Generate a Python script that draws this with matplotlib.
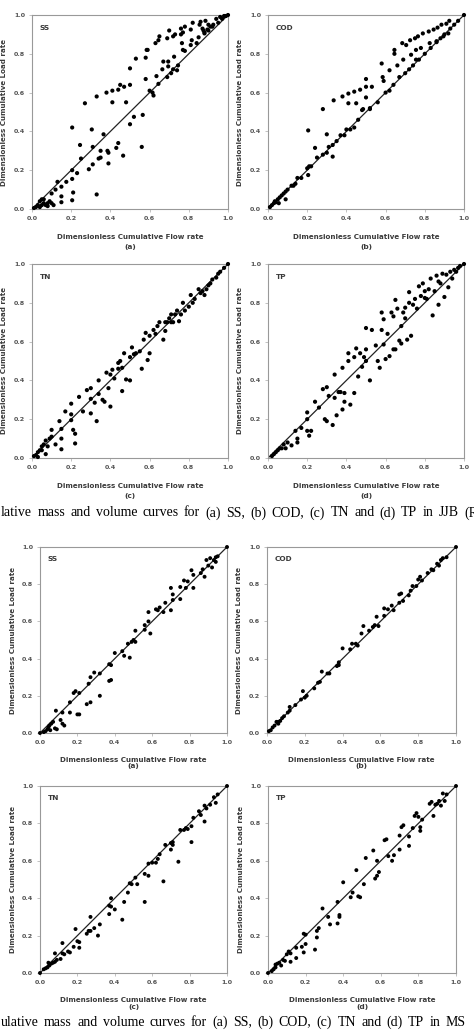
import numpy as np
import matplotlib
matplotlib.use('Agg')
import matplotlib.pyplot as plt

# Cumulative (dimensionless) flow vs load
# JJB site
ss_jjb_x = [0.27, 0.33, 0.38, 0.41, 0.41, 0.44, 0.45, 0.47, 0.48, 0.50, 0.50, 0.53, 0.58, 0.585, 0.59,
            0.58, 0.63, 0.645, 0.65, 0.69, 0.70, 0.72, 0.73, 0.76, 0.78, 0.76, 0.77, 0.82, 0.86, 0.81,
            0.855, 0.885, 0.94, 0.96, 0.98, 0.90, 0.92, 0.95, 0.97, 0.99, 1.0, 0.87, 0.88, 0.90,
            0.565, 0.56, 0.52, 0.50, 0.465, 0.44, 0.43, 0.39, 0.39, 0.385, 0.35, 0.34, 0.35, 0.365,
            0.31, 0.29, 0.31, 0.305, 0.245, 0.25, 0.205, 0.205, 0.23, 0.205, 0.21, 0.205, 0.33,
            0.15, 0.15, 0.15, 0.13, 0.175, 0.12, 0.10, 0.05, 0.04,
            0.02, 0.03, 0.05, 0.06, 0.07, 0.08, 0.09, 0.10, 0.11, 0.01, 0.04, 0.06, 0.08,
            0.60, 0.615, 0.62, 0.645, 0.635, 0.665, 0.67, 0.695, 0.695, 0.69, 0.71, 0.72, 0.725,
            0.74, 0.745, 0.77, 0.765, 0.78, 0.81, 0.815, 0.84, 0.85, 0.875, 0.88, 0.895, 0.925, 0.91]
ss_jjb_y = [0.545, 0.58, 0.60, 0.61, 0.55, 0.615, 0.64, 0.63, 0.55, 0.64, 0.725, 0.775, 0.78, 0.82, 0.82,
            0.67, 0.855, 0.87, 0.89, 0.88, 0.92, 0.89, 0.90, 0.93, 0.94, 0.90, 0.91, 0.96, 0.965, 0.925,
            0.95, 0.97, 0.98, 0.99, 0.995, 0.92, 0.94, 0.96, 0.98, 0.995, 1.0, 0.93, 0.91, 0.95,
            0.485, 0.32, 0.475, 0.437, 0.275, 0.34, 0.315, 0.235, 0.29, 0.30, 0.265, 0.26, 0.30, 0.385,
            0.23, 0.205, 0.32, 0.41, 0.33, 0.26, 0.42, 0.20, 0.185, 0.155, 0.085, 0.045, 0.075,
            0.115, 0.065, 0.035, 0.14, 0.14, 0.10, 0.08, 0.05, 0.04,
            0.01, 0.02, 0.02, 0.03, 0.02, 0.03, 0.04, 0.03, 0.02, 0.005, 0.01, 0.05, 0.015,
            0.61, 0.60, 0.585, 0.645, 0.685, 0.72, 0.76, 0.76, 0.735, 0.68, 0.70, 0.72, 0.785,
            0.715, 0.74, 0.82, 0.855, 0.815, 0.845, 0.87, 0.855, 0.885, 0.92, 0.905, 0.925, 0.95, 0.94]

cod_jjb_x = [0.205, 0.28, 0.335, 0.38, 0.41, 0.41, 0.44, 0.45, 0.47, 0.50, 0.50, 0.50, 0.53, 0.485, 0.52,
             0.58, 0.585, 0.59, 0.645, 0.645, 0.62, 0.66, 0.685, 0.705, 0.69, 0.725, 0.75, 0.765, 0.79,
             0.82, 0.845, 0.865, 0.885, 0.91, 0.925, 0.895, 0.92, 0.86, 0.825, 0.78, 0.755, 0.73, 0.755,
             0.02, 0.03, 0.04, 0.05, 0.06, 0.07, 0.08, 0.09, 0.10, 0.12, 0.14, 0.15, 0.17, 0.20, 0.21,
             0.22, 0.25, 0.28, 0.30, 0.31, 0.33, 0.35, 0.37, 0.39, 0.40, 0.42, 0.44, 0.46, 0.48, 0.52,
             0.56, 0.60, 0.62, 0.64, 0.67, 0.70, 0.72, 0.74, 0.77, 0.80, 0.83, 0.86, 0.88, 0.90, 0.93,
             0.95, 0.97, 1.0, 0.205, 0.33, 0.30, 0.24, 0.09, 0.13, 0.01, 0.035, 0.055]
cod_jjb_y = [0.405, 0.515, 0.56, 0.58, 0.595, 0.545, 0.605, 0.545, 0.615, 0.67, 0.63, 0.575, 0.63, 0.515, 0.515,
             0.75, 0.68, 0.66, 0.82, 0.80, 0.715, 0.74, 0.855, 0.845, 0.77, 0.87, 0.88, 0.89, 0.905,
             0.915, 0.925, 0.935, 0.95, 0.955, 0.97, 0.89, 0.905, 0.865, 0.855, 0.83, 0.82, 0.795, 0.77,
             0.02, 0.03, 0.035, 0.05, 0.06, 0.07, 0.08, 0.09, 0.10, 0.12, 0.13, 0.16, 0.16, 0.21, 0.22,
             0.22, 0.265, 0.28, 0.29, 0.32, 0.33, 0.35, 0.38, 0.38, 0.41, 0.41, 0.42, 0.46, 0.51, 0.52,
             0.55, 0.60, 0.61, 0.64, 0.68, 0.70, 0.72, 0.74, 0.77, 0.80, 0.83, 0.86, 0.88, 0.90, 0.93,
             0.95, 0.97, 1.0, 0.175, 0.27, 0.385, 0.315, 0.05, 0.12, 0.01, 0.04, 0.03]

tn_jjb_x = [0.01, 0.02, 0.03, 0.04, 0.05, 0.06, 0.07, 0.08, 0.09, 0.10, 0.10, 0.12, 0.14, 0.15, 0.15,
            0.15, 0.17, 0.20, 0.20, 0.20, 0.21, 0.22, 0.22, 0.24, 0.26, 0.28, 0.30, 0.30, 0.30, 0.32,
            0.33, 0.34, 0.34, 0.36, 0.37, 0.38, 0.39, 0.40, 0.40, 0.41, 0.42, 0.44, 0.45, 0.46, 0.47,
            0.46, 0.48, 0.50, 0.50, 0.51, 0.52, 0.53, 0.56, 0.57, 0.58, 0.59, 0.60, 0.60, 0.62, 0.63,
            0.64, 0.65, 0.67, 0.68, 0.68, 0.70, 0.71, 0.72, 0.73, 0.74, 0.75, 0.76, 0.77, 0.78, 0.80,
            0.81, 0.82, 0.83, 0.85, 0.86, 0.87, 0.88, 0.89, 0.90, 0.91, 0.92, 0.94, 0.95, 0.96, 0.98,
            1.0, 0.71, 0.69, 0.55, 0.44, 0.07, 0.03, 0.05]
tn_jjb_y = [0.01, 0.015, 0.03, 0.04, 0.06, 0.07, 0.09, 0.06, 0.10, 0.11, 0.145, 0.07, 0.19, 0.15, 0.10,
            0.045, 0.24, 0.28, 0.225, 0.195, 0.145, 0.125, 0.075, 0.315, 0.24, 0.35, 0.36, 0.305, 0.23, 0.285,
            0.19, 0.40, 0.33, 0.30, 0.29, 0.44, 0.36, 0.265, 0.43, 0.455, 0.41, 0.49, 0.50, 0.465, 0.54,
            0.345, 0.405, 0.40, 0.52, 0.57, 0.535, 0.54, 0.46, 0.61, 0.645, 0.505, 0.54, 0.63, 0.66, 0.64,
            0.68, 0.70, 0.61, 0.655, 0.70, 0.72, 0.74, 0.70, 0.74, 0.76, 0.705, 0.74, 0.80, 0.76, 0.78,
            0.84, 0.80, 0.82, 0.87, 0.85, 0.86, 0.84, 0.87, 0.89, 0.90, 0.92, 0.93, 0.95, 0.96, 0.98,
            1.0, 0.70, 0.70, 0.55, 0.46, 0.02, 0.005, 0.04]

tp_jjb_x = [0.02, 0.03, 0.04, 0.05, 0.06, 0.07, 0.08, 0.10, 0.09, 0.12, 0.14, 0.15, 0.15, 0.17, 0.20,
            0.20, 0.20, 0.21, 0.22, 0.24, 0.26, 0.28, 0.29, 0.30, 0.30, 0.31, 0.33, 0.34, 0.34, 0.35,
            0.36, 0.37, 0.38, 0.38, 0.39, 0.39, 0.41, 0.41, 0.42, 0.44, 0.44, 0.45, 0.46, 0.47, 0.48,
            0.49, 0.50, 0.50, 0.52, 0.53, 0.56, 0.57, 0.58, 0.58, 0.59, 0.59, 0.60, 0.61, 0.62, 0.63,
            0.64, 0.64, 0.65, 0.65, 0.66, 0.67, 0.68, 0.68, 0.69, 0.70, 0.70, 0.71, 0.72, 0.72, 0.73,
            0.74, 0.75, 0.76, 0.77, 0.78, 0.79, 0.80, 0.80, 0.81, 0.82, 0.83, 0.84, 0.85, 0.86, 0.87,
            0.87, 0.88, 0.89, 0.90, 0.91, 0.92, 0.93, 0.94, 0.95, 0.96, 0.97, 0.98, 1.0, 0.55, 0.50]
tp_jjb_y = [0.01, 0.02, 0.03, 0.04, 0.05, 0.05, 0.07, 0.08, 0.05, 0.065, 0.14, 0.10, 0.08, 0.155, 0.235,
            0.20, 0.14, 0.115, 0.14, 0.29, 0.26, 0.355, 0.20, 0.19, 0.365, 0.32, 0.17, 0.43, 0.31, 0.22,
            0.34, 0.34, 0.25, 0.465, 0.29, 0.335, 0.54, 0.50, 0.275, 0.52, 0.335, 0.565, 0.42, 0.54, 0.47,
            0.52, 0.67, 0.56, 0.40, 0.66, 0.50, 0.465, 0.66, 0.75, 0.585, 0.715, 0.51, 0.64, 0.525, 0.75,
            0.73, 0.56, 0.56, 0.815, 0.77, 0.605, 0.68, 0.59, 0.75, 0.775, 0.72, 0.61, 0.855, 0.80, 0.63,
            0.79, 0.82, 0.77, 0.885, 0.835, 0.90, 0.86, 0.825, 0.82, 0.87, 0.925, 0.735, 0.86, 0.94, 0.91,
            0.79, 0.90, 0.95, 0.83, 0.945, 0.88, 0.96, 0.925, 0.97, 0.96, 0.98, 0.99, 1.0, 0.58, 0.50]

# MS site
ss_ms_x = [0.0, 0.02, 0.03, 0.04, 0.045, 0.05, 0.055, 0.06, 0.07, 0.08, 0.09, 0.085, 0.11, 0.12, 0.12,
           0.13, 0.16, 0.16, 0.18, 0.19, 0.20, 0.21, 0.21, 0.25, 0.26, 0.27, 0.27, 0.29, 0.32, 0.32,
           0.37, 0.38, 0.37, 0.38, 0.40, 0.44, 0.45, 0.47, 0.48, 0.49, 0.50, 0.51, 0.51, 0.56, 0.56,
           0.58, 0.58, 0.59, 0.62, 0.63, 0.64, 0.66, 0.67, 0.70, 0.70, 0.71, 0.71, 0.75, 0.75, 0.77,
           0.78, 0.79, 0.81, 0.82, 0.82, 0.86, 0.87, 0.88, 0.89, 0.90, 0.91, 0.92, 0.93, 0.94, 0.94,
           0.95, 1.0]
ss_ms_y = [0.0, 0.005, 0.01, 0.02, 0.03, 0.04, 0.015, 0.05, 0.06, 0.025, 0.02, 0.12, 0.07, 0.11, 0.05,
           0.04, 0.165, 0.11, 0.215, 0.225, 0.10, 0.10, 0.215, 0.155, 0.265, 0.165, 0.30, 0.325, 0.32, 0.20,
           0.28, 0.285, 0.37, 0.365, 0.43, 0.44, 0.415, 0.48, 0.405, 0.49, 0.50, 0.49, 0.55, 0.555, 0.58,
           0.65, 0.60, 0.535, 0.665, 0.66, 0.675, 0.65, 0.70, 0.78, 0.66, 0.715, 0.745, 0.72, 0.785, 0.82,
           0.78, 0.815, 0.875, 0.85, 0.78, 0.86, 0.88, 0.84, 0.93, 0.90, 0.94, 0.89, 0.93, 0.945, 0.92,
           0.95, 1.0]

cod_ms_x = [0.01, 0.02, 0.03, 0.04, 0.05, 0.06, 0.06, 0.07, 0.08, 0.09, 0.11, 0.12, 0.12, 0.15, 0.18,
            0.19, 0.20, 0.21, 0.25, 0.27, 0.28, 0.29, 0.32, 0.37, 0.38, 0.38, 0.40, 0.44, 0.45, 0.47,
            0.48, 0.50, 0.51, 0.54, 0.56, 0.57, 0.58, 0.59, 0.62, 0.62, 0.64, 0.66, 0.67, 0.70, 0.71,
            0.72, 0.75, 0.76, 0.77, 0.79, 0.80, 0.81, 0.82, 0.85, 0.87, 0.88, 0.90, 0.91, 0.92, 0.93,
            0.95, 1.0, 0.70, 0.33]
cod_ms_y = [0.01, 0.015, 0.03, 0.04, 0.06, 0.05, 0.06, 0.065, 0.08, 0.09, 0.11, 0.14, 0.12, 0.15, 0.18,
            0.225, 0.19, 0.20, 0.24, 0.27, 0.275, 0.33, 0.32, 0.36, 0.38, 0.365, 0.455, 0.45, 0.48, 0.48,
            0.47, 0.535, 0.575, 0.55, 0.57, 0.58, 0.625, 0.575, 0.63, 0.67, 0.665, 0.685, 0.66, 0.745, 0.75,
            0.71, 0.74, 0.765, 0.79, 0.79, 0.825, 0.84, 0.82, 0.86, 0.88, 0.875, 0.91, 0.90, 0.93, 0.94,
            0.945, 1.0, 0.70, 0.32]

tn_ms_x = [0.0, 0.02, 0.03, 0.04, 0.045, 0.05, 0.06, 0.07, 0.08, 0.08, 0.09, 0.11, 0.12, 0.12, 0.13,
           0.15, 0.16, 0.18, 0.19, 0.20, 0.21, 0.21, 0.25, 0.26, 0.27, 0.27, 0.29, 0.31, 0.32, 0.37,
           0.37, 0.38, 0.38, 0.40, 0.44, 0.45, 0.47, 0.48, 0.49, 0.51, 0.52, 0.56, 0.56, 0.58, 0.58,
           0.60, 0.62, 0.63, 0.64, 0.66, 0.67, 0.70, 0.70, 0.71, 0.71, 0.74, 0.75, 0.77, 0.78, 0.79,
           0.81, 0.81, 0.82, 0.85, 0.86, 0.88, 0.88, 0.89, 0.91, 0.93, 0.94, 0.95, 1.0]
tn_ms_y = [0.0, 0.02, 0.025, 0.03, 0.055, 0.04, 0.05, 0.055, 0.105, 0.06, 0.07, 0.075, 0.16, 0.105, 0.10,
           0.115, 0.11, 0.14, 0.235, 0.17, 0.135, 0.165, 0.21, 0.225, 0.30, 0.225, 0.24, 0.20, 0.26, 0.36,
           0.315, 0.40, 0.355, 0.34, 0.285, 0.38, 0.43, 0.48, 0.475, 0.51, 0.475, 0.53, 0.38, 0.52, 0.585,
           0.59, 0.59, 0.61, 0.635, 0.49, 0.685, 0.66, 0.695, 0.685, 0.70, 0.595, 0.765, 0.765, 0.775, 0.77,
           0.785, 0.70, 0.83, 0.865, 0.845, 0.81, 0.895, 0.88, 0.90, 0.94, 0.91, 0.955, 1.0]

tp_ms_x = [0.0, 0.02, 0.03, 0.04, 0.04, 0.05, 0.06, 0.07, 0.08, 0.09, 0.10, 0.11, 0.12, 0.12, 0.15,
           0.15, 0.18, 0.19, 0.19, 0.20, 0.20, 0.25, 0.26, 0.26, 0.27, 0.29, 0.32, 0.33, 0.37, 0.37,
           0.38, 0.38, 0.40, 0.44, 0.45, 0.47, 0.48, 0.49, 0.51, 0.52, 0.56, 0.57, 0.58, 0.58, 0.59,
           0.62, 0.63, 0.64, 0.66, 0.67, 0.70, 0.70, 0.71, 0.72, 0.75, 0.75, 0.77, 0.78, 0.79, 0.80,
           0.81, 0.81, 0.82, 0.86, 0.87, 0.88, 0.89, 0.90, 0.91, 0.92, 0.93, 0.94, 0.95, 1.0]
tp_ms_y = [0.0, 0.01, 0.02, 0.03, 0.045, 0.05, 0.055, 0.04, 0.07, 0.065, 0.10, 0.115, 0.06, 0.105, 0.135,
           0.08, 0.14, 0.21, 0.11, 0.155, 0.205, 0.125, 0.225, 0.19, 0.24, 0.345, 0.30, 0.26, 0.265, 0.38,
           0.31, 0.30, 0.485, 0.405, 0.43, 0.55, 0.41, 0.405, 0.475, 0.615, 0.655, 0.505, 0.60, 0.52, 0.54,
           0.71, 0.715, 0.625, 0.60, 0.63, 0.66, 0.735, 0.78, 0.79, 0.68, 0.73, 0.775, 0.84, 0.855, 0.835,
           0.78, 0.76, 0.82, 0.905, 0.915, 0.84, 0.90, 0.905, 0.92, 0.895, 0.96, 0.92, 0.955, 1.0]

ticks = [0.0, 0.2, 0.4, 0.6, 0.8, 1.0]
tick_labels = ['0.0', '0.2', '0.4', '0.6', '0.8', '1.0']
panel_names = ['SS', 'COD', 'TN', 'TP']
panel_letters = ['(a)', '(b)', '(c)', '(d)']
caption_jjb = 'lative mass and volume curves for (a) SS, (b) COD, (c) TN and (d) TP in JJB (R'
caption_ms = 'ulative mass and volume curves for (a) SS, (b) COD, (c) TN and (d) TP in MS'

W, H = 474, 1032
fig = plt.figure(figsize=(W / 100, H / 100), dpi=100)
fig.patch.set_facecolor('white')

# axes boxes in pixels: left, top, right, bottom
boxes = [(32, 15, 228, 209), (268, 15, 464, 209), (32, 264, 228, 458), (268, 264, 464, 458),
         (40, 547, 227, 733), (267, 547, 456, 733), (40, 786, 227, 973), (268, 786, 456, 973)]
datasets = [(ss_jjb_x, ss_jjb_y), (cod_jjb_x, cod_jjb_y), (tn_jjb_x, tn_jjb_y), (tp_jjb_x, tp_jjb_y),
            (ss_ms_x, ss_ms_y), (cod_ms_x, cod_ms_y), (tn_ms_x, tn_ms_y), (tp_ms_x, tp_ms_y)]

txt = '#3a3a3a'
for i, ((l, t, r, b), (xs, ys)) in enumerate(zip(boxes, datasets)):
    ax = fig.add_axes([l / W, 1 - b / H, (r - l) / W, (b - t) / H])
    small = i >= 4
    ax.plot([0, 1], [0, 1], color='#222222', lw=0.9, zorder=2)
    ax.scatter(xs, ys, s=9 if not small else 8, color='black', edgecolors='none', zorder=3, clip_on=False)
    ax.set_xlim(0, 1)
    ax.set_ylim(0, 1)
    ax.set_xticks(ticks)
    ax.set_yticks(ticks)
    ax.set_xticklabels(tick_labels)
    ax.set_yticklabels(tick_labels)
    ax.tick_params(length=2, width=0.5, color='#aaaaaa', labelsize=4.6, labelcolor='#555555', pad=3)
    for lab in ax.get_xticklabels() + ax.get_yticklabels():
        lab.set_fontweight('bold')
    for sp in ax.spines.values():
        sp.set_color('#999999')
        sp.set_linewidth(0.8)
    ax.set_xlabel('Dimensionless Cumulative Flow rate', fontsize=5.1, fontweight='bold', color=txt)
    ax.set_ylabel('Dimensionless Cumulative Load rate', fontsize=5.1, fontweight='bold', color=txt)
    ax.xaxis.set_label_coords(0.5, -0.13)
    ax.yaxis.set_label_coords(-0.13, 0.5)
    ax.text(0.04, 0.95, panel_names[i % 4], transform=ax.transAxes, fontsize=5.3, fontweight='bold',
            color=txt, va='top', ha='left')
    ax.text(0.5, -0.195 if not small else -0.18, panel_letters[i % 4], transform=ax.transAxes,
            fontsize=5.3, fontweight='bold', color=txt, ha='center', va='center')


def justified_line(words, y_px, left_px, right_px, size):
    # place words one by one, spreading the gaps so the line fills the width
    items = [fig.text(0, 1 - y_px / H, w, fontsize=size, family='Liberation Serif',
                      va='center', ha='left', color='black') for w in words]
    fig.canvas.draw()
    rend = fig.canvas.get_renderer()
    widths = [it.get_window_extent(rend).width for it in items]
    gap = (right_px - left_px - sum(widths)) / (len(words) - 1)
    x = left_px
    for it, wd in zip(items, widths):
        it.set_x(x / W)
        x += wd + gap


justified_line(caption_jjb.split(' '), 513, 1, 478, 10)
justified_line(caption_ms.split(' '), 1022, 1, 466, 10)

fig.savefig('out.png', dpi=100)
